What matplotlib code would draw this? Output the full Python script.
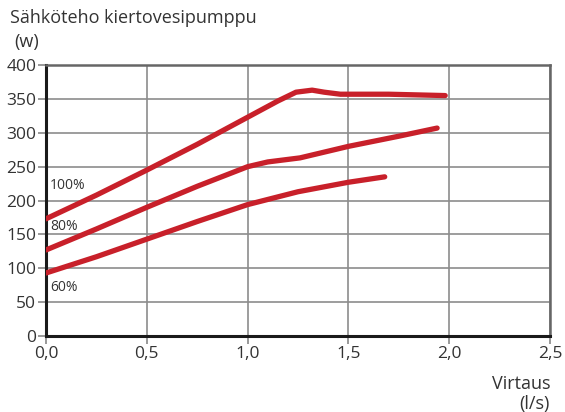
import numpy as np
import matplotlib.pyplot as plt

# flow (l/s) and power (W)
x100 = [0.0, 0.25, 0.5, 0.75, 1.0, 1.15, 1.24, 1.32, 1.38, 1.46, 1.7, 1.98]
y100 = [173, 208, 245, 283, 323, 347, 360, 363, 360, 357, 357, 355]
x80 = [0.0, 0.25, 0.5, 0.75, 1.0, 1.1, 1.26, 1.5, 1.75, 1.94]
y80 = [127, 158, 190, 221, 250, 257, 263, 280, 295, 307]
x60 = [0.0, 0.25, 0.5, 0.75, 1.0, 1.25, 1.5, 1.68]
y60 = [93, 117, 143, 169, 194, 213, 227, 235]
curve_labels = ['100%', '80%', '60%']
label_y = [222, 162, 72]

xticks = [0.0, 0.5, 1.0, 1.5, 2.0, 2.5]
xticklabels = ['0,0', '0,5', '1,0', '1,5', '2,0', '2,5']
yticks = [0, 50, 100, 150, 200, 250, 300, 350, 400]

plt.rcParams['font.family'] = 'Open Sans'
txt = '#333333'
red = '#c8202a'

fig = plt.figure(figsize=(5.65, 4.12), dpi=100)
ax = fig.add_axes([0.0814, 0.1845, 0.8921, 0.6575])

for xs, ys in [(x100, y100), (x80, y80), (x60, y60)]:
    ax.plot(xs, ys, color=red, lw=3.8, solid_capstyle='round', zorder=3)

for lab, ly in zip(curve_labels, label_y):
    ax.text(0.02, ly, lab, fontsize=10, color=txt, va='center', ha='left')

ax.set_xlim(0, 2.5)
ax.set_ylim(0, 400)
ax.set_xticks(xticks)
ax.set_xticklabels(xticklabels)
ax.set_yticks(yticks)
ax.grid(True, color='#8c8c8c', lw=1.2)
ax.set_axisbelow(True)
ax.tick_params(labelsize=12.5, labelcolor=txt, color='#888888', length=6, width=1.2, direction='out')
ax.tick_params(axis='x', pad=1)
ax.tick_params(axis='y', pad=1)

for s in ['left', 'bottom']:
    ax.spines[s].set_color('#1a1a1a')
    ax.spines[s].set_linewidth(2.2)
for s in ['top', 'right']:
    ax.spines[s].set_color('#666666')
    ax.spines[s].set_linewidth(1.8)

fig.text(10 / 565, 1 - 18 / 412, 'Sähköteho kiertovesipumppu', fontsize=13, color=txt, va='center', ha='left')
fig.text(14 / 565, 1 - 42 / 412, '(w)', fontsize=13, color=txt, va='center', ha='left')
fig.text(550 / 565, 1 - 384 / 412, 'Virtaus', fontsize=13, color=txt, va='center', ha='right')
fig.text(550 / 565, 1 - 404 / 412, '(l/s)', fontsize=13, color=txt, va='center', ha='right')

fig.savefig('out.png', dpi=100)
